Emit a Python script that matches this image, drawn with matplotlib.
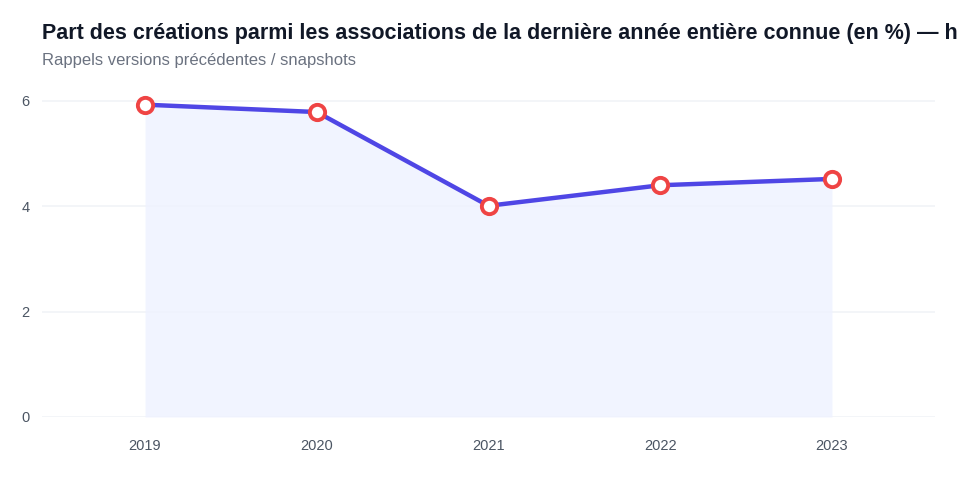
import matplotlib
matplotlib.use("Agg")
import matplotlib.pyplot as plt

years = ["2019", "2020", "2021", "2022", "2023"]
values = [5.93, 5.79, 4.01, 4.40, 4.52]
yticks = [0, 2, 4, 6]

title = "Part des créations parmi les associations de la dernière année entière connue (en %) — h"
subtitle = "Rappels versions précédentes / snapshots"

plt.rcParams['font.family'] = ['Liberation Sans', 'DejaVu Sans']

fig = plt.figure(figsize=(9.6, 4.8), dpi=100)
ax = fig.add_axes([42/960, 63/480, (935-42)/960, 6.2*52.67/480])

x = list(range(len(years)))
ax.fill_between(x, values, 0, color="#eef2ff", alpha=0.8, linewidth=0, zorder=1)
ax.plot(x, values, color="#4f46e5", linewidth=3.2, zorder=3, solid_capstyle="round")
ax.plot(x, values, linestyle="none", marker="o", markersize=11, markerfacecolor="white",
        markeredgecolor="#ef4444", markeredgewidth=2.8, zorder=4)

ax.set_xlim(-0.6, 4.6)
ax.set_ylim(0, 6.2)
ax.set_xticks(x)
ax.set_xticklabels(years)
ax.set_yticks(yticks)
ax.set_yticklabels([str(v) for v in yticks])
ax.grid(axis="y", color="#f1f3f7", linewidth=1.2, zorder=0)
ax.set_axisbelow(True)
for s in ax.spines.values():
    s.set_visible(False)
ax.tick_params(axis="both", length=0, labelsize=10.5, colors="#4b5563")
ax.tick_params(axis="x", pad=16)
ax.tick_params(axis="y", pad=9)

fig.text(42/960, 1-33/480, title, fontsize=15.5, fontweight="bold", color="#111827",
         ha="left", va="center")
fig.text(42/960, 1-60/480, subtitle, fontsize=12, color="#6b7280", ha="left", va="center")

fig.savefig("out.png", dpi=100)
